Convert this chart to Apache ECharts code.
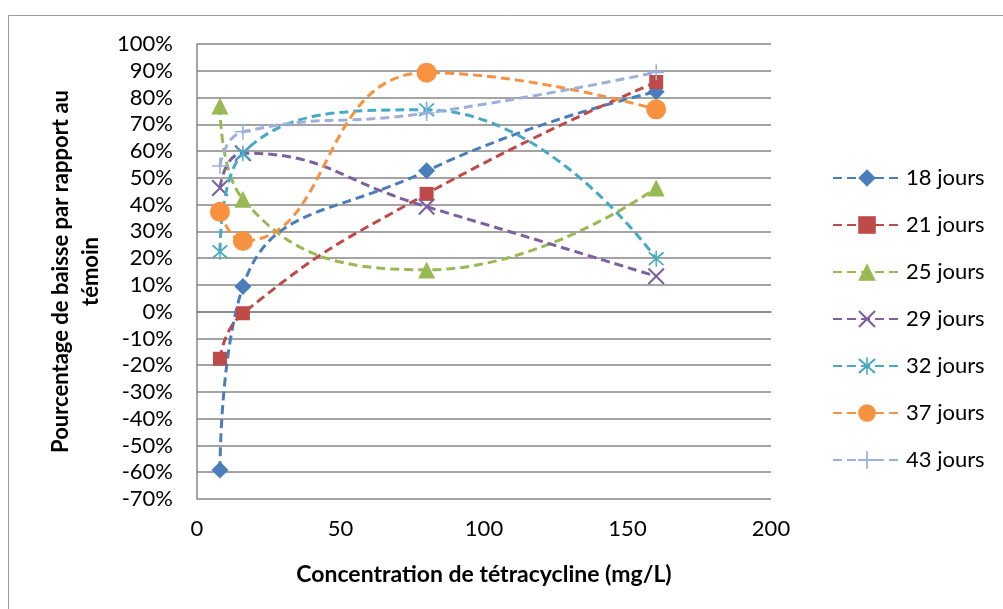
<!DOCTYPE html>
<html>
<head>
<meta charset="utf-8">
<script src="https://cdn.jsdelivr.net/npm/echarts@6/dist/echarts.min.js"></script>
<style>html,body{margin:0;padding:0;background:#fff}#c{width:1003px;height:609px}</style>
</head>
<body>
<div id="c"></div>
<script>
const concentrations = [8, 16, 80, 160];
const seriesNames = ['18 jours', '21 jours', '25 jours', '29 jours', '32 jours', '37 jours', '43 jours'];
const j18 = [-59.2, 9.4, 52.6, 82.2];
const j21 = [-17.6, -0.6, 44.0, 85.8];
const j25 = [76.8, 42.0, 15.6, 46.2];
const j29 = [46.2, 59.2, 39.2, 13.2];
const j32 = [22.4, 59.2, 75.4, 19.8];
const j37 = [37.3, 26.4, 89.3, 75.6];
const j43 = [54.4, 67.2, 74.2, 89.4];
const yTicks = { min: -70, max: 100, step: 10 };
const xTicks = { min: 0, max: 200, step: 50 };

const allValues = [j18, j21, j25, j29, j32, j37, j43];
const colors = ['#4A7EBB', '#BE4B48', '#98B954', '#7D60A0', '#46AAC5', '#F69240', '#9DB0DC'];
const xPath = 'path://M-10,-8.3L-8.3,-10L0,-1.7L8.3,-10L10,-8.3L1.7,0L10,8.3L8.3,10L0,1.7L-8.3,10L-10,8.3L-1.7,0Z';
const starPath = 'path://M-10,-8.3L-8.3,-10L0,-1.7L8.3,-10L10,-8.3L1.7,0L10,8.3L8.3,10L0,1.7L-8.3,10L-10,8.3L-1.7,0ZM-0.9,-11.5H0.9V11.5H-0.9Z';
const plusPath = 'path://M-1,-10H1V-1H10V1H1V10H-1V1H-10V-1H-1Z';
const symbols = ['diamond', 'rect', 'triangle', xPath, starPath, 'circle', plusPath];
const sizes = [17, 14, 17, 17, 16, 20, 16];

const FONT = 'Lato, Carlito, sans-serif';
const series = seriesNames.map((name, i) => ({
  name: name,
  type: 'line',
  smooth: 0.5,
  data: concentrations.map((x, k) => [x, allValues[i][k]]),
  symbol: symbols[i],
  symbolSize: sizes[i],
  color: colors[i],
  lineStyle: { color: colors[i], width: 3, type: [9, 5] },
  itemStyle: { color: colors[i] },
  emphasis: { disabled: true },
  z: 2 + i
}));

const chart = echarts.init(document.getElementById('c'), null, { renderer: 'canvas' });
chart.setOption({
  animation: false,
  backgroundColor: '#fff',
  textStyle: { fontFamily: FONT },
  graphic: [{
    type: 'rect', shape: { x: 8.5, y: 15.5, width: 1010, height: 620 },
    style: { fill: 'none', stroke: '#9a9a9a', lineWidth: 1 }, silent: true
  }],
  grid: { left: 197, right: 232, top: 44, bottom: 110 },
  legend: {
    orient: 'vertical', left: 827, top: 162,
    itemWidth: 68, itemHeight: 22, itemGap: 25,
    data: seriesNames,
    textStyle: { fontFamily: FONT, fontSize: 22, color: '#000' }
  },
  xAxis: {
    type: 'value', min: xTicks.min, max: xTicks.max, interval: xTicks.step,
    name: 'Concentration de tétracycline (mg/L)', nameLocation: 'middle', nameGap: 64,
    nameTextStyle: { fontFamily: FONT, fontSize: 23, fontWeight: 'bold', color: '#000' },
    axisLine: { show: true, lineStyle: { color: '#868686', width: 1.5 } },
    axisTick: { show: false },
    splitLine: { show: false },
    axisLabel: { fontFamily: FONT, fontSize: 22, color: '#000', margin: 19 }
  },
  yAxis: {
    type: 'value', min: yTicks.min, max: yTicks.max, interval: yTicks.step,
    name: 'Pourcentage de baisse par rapport au\ntémoin', nameLocation: 'middle', nameGap: 91, nameRotate: 90,
    nameTextStyle: { fontFamily: FONT, fontSize: 22, fontWeight: 'bold', color: '#000', lineHeight: 30, align: 'center' },
    axisLine: { show: true, lineStyle: { color: '#868686', width: 1.5 } },
    axisTick: { show: false },
    splitLine: { show: true, lineStyle: { color: '#868686', width: 1.5 } },
    axisLabel: { fontFamily: FONT, fontSize: 22, color: '#000', margin: 24, formatter: '{value}%' }
  },
  series: series
});
</script>
</body>
</html>
